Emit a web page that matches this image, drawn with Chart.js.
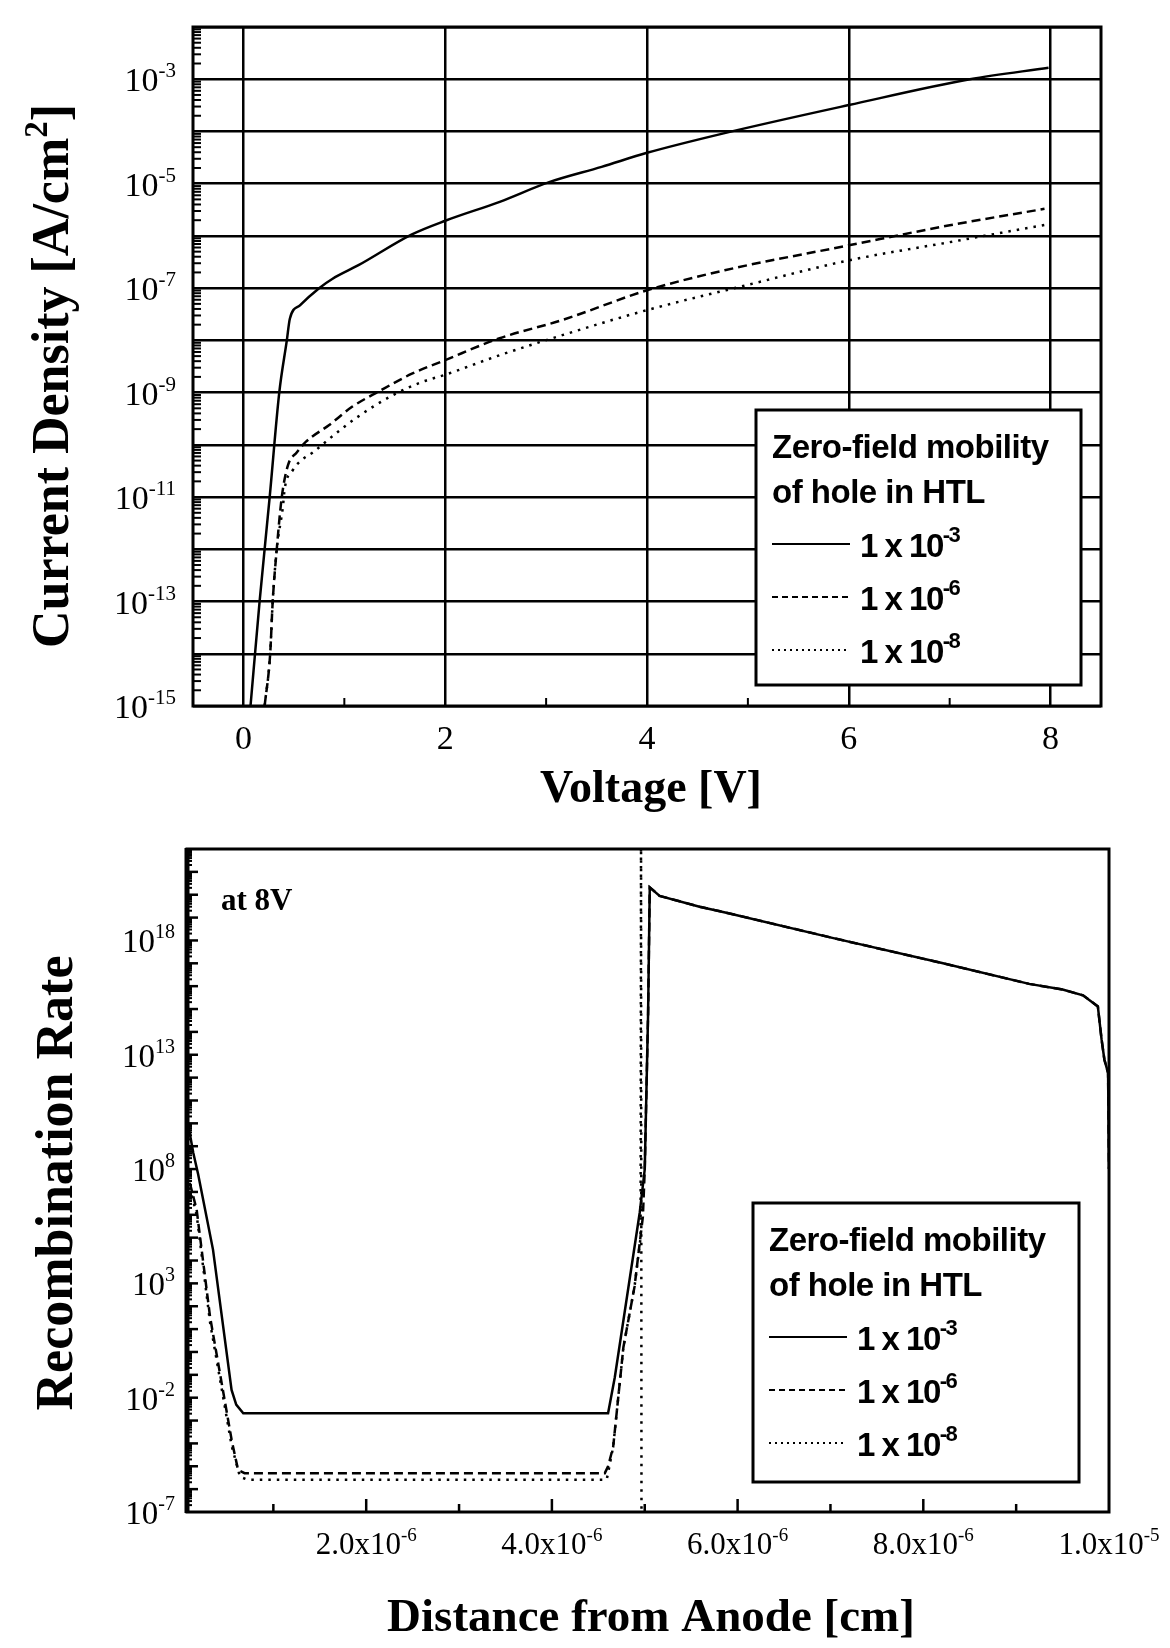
<!DOCTYPE html>
<html>
<head>
<meta charset="utf-8">
<script src="https://cdn.jsdelivr.net/npm/chart.js@4.4.0/dist/chart.umd.min.js"></script>
<style>
  body { margin: 0; background: #fff; }
  #wrap { position: relative; width: 1170px; height: 1648px; }
  canvas { position: absolute; left: 0; }
</style>
</head>
<body>
<div id="wrap">
  <canvas id="jvChart" width="1170" height="830" style="top:0"></canvas>
  <canvas id="recChart" width="1170" height="818" style="top:830px"></canvas>
</div>
<script>
// ---- top panel: current density vs voltage
const voltSolid = [0.07, 0.16, 0.26, 0.355, 0.43, 0.46, 0.56, 0.75, 0.88, 1.14, 1.67, 2.0, 2.54, 3.03, 3.55, 4.0, 4.77, 6.0, 7.2, 7.98];
const curSolid = [1e-15, 1e-13, 1e-11, 1e-9, 1e-8, 2.6e-8, 4.7e-8, 1.0e-7, 1.5e-7, 2.75e-7, 1.07e-6, 1.95e-6, 4.5e-6, 1.07e-5, 2.1e-5, 3.9e-5, 9.3e-5, 3.2e-4, 1.0e-3, 1.66e-3];

const voltDashed = [0.21, 0.265, 0.29, 0.33, 0.38, 0.44, 0.53, 0.62, 0.85, 1.08, 1.34, 1.67, 2.0, 2.54, 3.16, 4.0, 4.77, 6.0, 7.0, 7.94];
const curDashed = [1e-15, 1e-14, 1e-13, 1e-12, 1e-11, 4.0e-11, 7.2e-11, 1.15e-10, 2.4e-10, 5.4e-10, 1.05e-9, 2.3e-9, 4.2e-9, 1.1e-8, 2.45e-8, 9.1e-8, 2.2e-7, 6.6e-7, 1.6e-6, 3.3e-6];

const voltDotted = [0.21, 0.265, 0.29, 0.33, 0.39, 0.41, 0.49, 0.575, 0.69, 0.85, 1.11, 1.47, 1.77, 2.0, 2.54, 3.16, 4.0, 4.97, 6.0, 7.0, 8.0];
const curDotted = [1e-15, 1e-14, 1e-13, 1e-12, 6.3e-12, 1.5e-11, 3.3e-11, 5.1e-11, 7.2e-11, 1.3e-10, 3.2e-10, 8.7e-10, 1.6e-9, 2.2e-9, 5.2e-9, 1.26e-8, 3.8e-8, 1.12e-7, 3.4e-7, 7.6e-7, 1.7e-6];

const voltTicks = [0, 2, 4, 6, 8];
const voltMinorTicks = [1, 3, 5, 7];
const curDecades = [1e-15, 1e-14, 1e-13, 1e-12, 1e-11, 1e-10, 1e-9, 1e-8, 1e-7, 1e-6, 1e-5, 1e-4, 1e-3, 1e-2];
const curLabelTicks = [1e-3, 1e-5, 1e-7, 1e-9, 1e-11, 1e-13, 1e-15];

// ---- bottom panel: recombination rate at 8 V
const distSolid = [8.0e-8, 1.38e-7, 1.9e-7, 3.5e-7, 5.5e-7, 6.0e-7, 6.76e-7, 4.605e-6, 4.677e-6, 4.946e-6, 5.0e-6, 5.036e-6, 5.054e-6, 5.16e-6, 5.59e-6, 5.89e-6, 7.02e-6, 8.19e-6, 9.14e-6, 9.5e-6, 9.72e-6, 9.88e-6, 9.92e-6, 9.95e-6, 9.99e-6, 1.0e-5];
const rateSolid = [1e10, 5e8, 6e7, 3.0e4, 0.022, 5e-3, 2.1e-3, 2.1e-3, 0.076, 1.26e6, 9.8e7, 6.3e14, 2.1e20, 8.9e19, 3.0e19, 1.6e19, 1.3e18, 1.05e17, 1.26e16, 7.1e15, 4.0e15, 1.3e15, 4.7e13, 6.2e12, 1.6e12, 1e8];

const distDashed = [1.0e-7, 1.74e-7, 3.18e-7, 5.51e-7, 6.2e-7, 6.9e-7, 4.57e-6, 4.605e-6, 4.66e-6, 4.77e-6, 4.89e-6, 4.98e-6, 5.0e-6, 5.036e-6, 5.054e-6, 5.16e-6, 5.59e-6, 5.89e-6, 7.02e-6, 8.19e-6, 9.14e-6, 9.5e-6, 9.72e-6, 9.88e-6, 9.92e-6, 9.95e-6, 9.99e-6, 1.0e-5];
const rateDashed = [2.5e7, 1.66e6, 35, 1.4e-4, 6.9e-6, 5e-6, 5e-6, 1e-5, 7.1e-5, 1.6, 720, 8.3e5, 9.8e7, 6.3e14, 2.1e20, 8.9e19, 3.0e19, 1.6e19, 1.3e18, 1.05e17, 1.26e16, 7.1e15, 4.0e15, 1.3e15, 4.7e13, 6.2e12, 1.6e12, 1e8];

const distDotted = [1.0e-7, 1.74e-7, 3.18e-7, 5.51e-7, 6.4e-7, 7.2e-7, 4.59e-6, 4.605e-6, 4.66e-6, 4.77e-6, 4.89e-6, 4.955e-6, 4.96e-6, 4.965e-6];
const rateDotted = [1.6e7, 1.0e6, 20, 7.9e-5, 3.5e-6, 2.6e-6, 2.6e-6, 5e-6, 7.1e-5, 1.6, 720, 1e5, 1e23, 1e-8];

const distMajorTicks = [2e-6, 4e-6, 6e-6, 8e-6];
const distMinorTicks = [1e-6, 3e-6, 5e-6, 7e-6, 9e-6];
const distLabelTicks = [2e-6, 4e-6, 6e-6, 8e-6, 1e-5];
const distLabelText = ['2.0x10', '4.0x10', '6.0x10', '8.0x10', '1.0x10'];
const distLabelExp = ['-6', '-6', '-6', '-6', '-5'];
const rateLabelTicks = [1e18, 1e13, 1e8, 1e3, 1e-2, 1e-7];

const mobilityExp = ['-3', '-6', '-8'];
const legendTitle = ['Zero-field mobility', 'of hole in HTL'];
const seriesDash = [[], [9, 5], [2.5, 6]];
const legendDash = [[], [6, 4], [2, 4]];

const serif = "'Liberation Serif', 'Times New Roman', serif";
const sans = "'Liberation Sans', Arial, sans-serif";

function pts(xs, ys) {
  return xs.map((v, i) => ({ x: v, y: ys[i] }));
}

function richText(ctx, parts, x, y, align) {
  let total = 0;
  parts.forEach(p => { ctx.font = p.font; p.w = ctx.measureText(p.text).width; total += p.w; });
  let cx = x;
  if (align === 'right') cx = x - total;
  if (align === 'center') cx = x - total / 2;
  ctx.textAlign = 'left';
  ctx.textBaseline = 'alphabetic';
  parts.forEach(p => {
    ctx.font = p.font;
    ctx.fillText(p.text, cx, y - (p.rise || 0));
    cx += p.w;
  });
}

function expOf(v) {
  return String(Math.round(Math.log10(v)));
}

function line(ctx, x1, y1, x2, y2) {
  ctx.beginPath();
  ctx.moveTo(x1, y1);
  ctx.lineTo(x2, y2);
  ctx.stroke();
}

function minorLogTicks(ctx, scale, a, lo, hi, len) {
  for (let e = lo; e < hi; e++) {
    for (let m = 2; m <= 9; m++) {
      const py = scale.getPixelForValue(m * Math.pow(10, e));
      if (py > a.top && py < a.bottom) line(ctx, a.left, py, a.left + len, py);
    }
  }
}

function drawLegend(ctx, bx, by, bw, bh) {
  ctx.save();
  ctx.fillStyle = '#fff';
  ctx.fillRect(bx, by, bw, bh);
  ctx.strokeStyle = '#000';
  ctx.lineWidth = 3;
  ctx.strokeRect(bx, by, bw, bh);
  ctx.fillStyle = '#000';
  ctx.font = `bold 33px ${sans}`;
  ctx.textAlign = 'left';
  ctx.letterSpacing = '-0.5px';
  legendTitle.forEach((t, i) => ctx.fillText(t, bx + 16, by + 48 + i * 45));
  mobilityExp.forEach((ex, i) => {
    const ly = by + 134 + i * 53;
    ctx.setLineDash(legendDash[i]);
    ctx.lineWidth = 2;
    line(ctx, bx + 16, ly, bx + 94, ly);
    ctx.setLineDash([]);
    ctx.letterSpacing = '-1.5px';
    richText(ctx, [
      { text: '1 x 10', font: `bold 33px ${sans}` },
      { text: ex, font: `bold 22px ${sans}`, rise: 15 }
    ], bx + 104, by + 147 + i * 53, 'left');
  });
  ctx.letterSpacing = '0px';
  ctx.restore();
}

function makeDatasets(sets, smooth) {
  return sets.map((s, i) => ({
    label: '1 x 10' + mobilityExp[i],
    data: s,
    borderColor: '#000',
    borderWidth: 2.5,
    borderDash: seriesDash[i],
    pointRadius: 0,
    tension: 0,
    cubicInterpolationMode: smooth ? 'monotone' : 'default',
    fill: false
  }));
}

const jvDecor = {
  id: 'jvDecor',
  afterDraw(chart) {
    const { ctx, chartArea: a, scales: { x, y } } = chart;
    ctx.save();
    ctx.strokeStyle = '#000';
    ctx.fillStyle = '#000';
    ctx.lineWidth = 2;
    minorLogTicks(ctx, y, a, -15, -2, 8);
    voltMinorTicks.forEach(v => {
      const px = x.getPixelForValue(v);
      line(ctx, px, a.bottom, px, a.bottom - 8);
    });
    ctx.lineWidth = 3;
    ctx.strokeRect(a.left, a.top, a.right - a.left, a.bottom - a.top);

    curLabelTicks.forEach(v => {
      const py = y.getPixelForValue(v);
      richText(ctx, [
        { text: '10', font: `34px ${serif}` },
        { text: expOf(v), font: `21px ${serif}`, rise: 14 }
      ], a.left - 17, py + 12, 'right');
    });
    ctx.font = `34px ${serif}`;
    ctx.textAlign = 'center';
    voltTicks.forEach(v => ctx.fillText(String(v), x.getPixelForValue(v), 749));

    ctx.font = `bold 46px ${serif}`;
    ctx.fillText('Voltage [V]', 651, 802);

    ctx.save();
    ctx.translate(68, 376);
    ctx.rotate(-Math.PI / 2);
    richText(ctx, [
      { text: 'Current Density [A/cm', font: `bold 52px ${serif}` },
      { text: '2', font: `bold 33px ${serif}`, rise: 21 },
      { text: ']', font: `bold 52px ${serif}` }
    ], 0, 0, 'center');
    ctx.restore();

    drawLegend(ctx, 756, 410, 325, 275);
    ctx.restore();
  }
};

const recDecor = {
  id: 'recDecor',
  afterDraw(chart) {
    const { ctx, chartArea: a, scales: { x, y } } = chart;
    ctx.save();
    ctx.strokeStyle = '#000';
    ctx.fillStyle = '#000';
    ctx.lineWidth = 2;
    minorLogTicks(ctx, y, a, -7, 22, 5);
    ctx.lineWidth = 2.5;
    for (let e = -6; e < 22; e++) {
      const py = y.getPixelForValue(Math.pow(10, e));
      line(ctx, a.left, py, a.left + 11, py);
    }
    distMajorTicks.forEach(v => {
      const px = x.getPixelForValue(v);
      line(ctx, px, a.bottom, px, a.bottom - 13);
    });
    distMinorTicks.forEach(v => {
      const px = x.getPixelForValue(v);
      line(ctx, px, a.bottom, px, a.bottom - 8);
    });
    ctx.lineWidth = 3;
    ctx.strokeRect(a.left, a.top, a.right - a.left, a.bottom - a.top);
    ctx.lineWidth = 5;
    line(ctx, a.left, a.top - 1, a.left, a.bottom + 1);

    rateLabelTicks.forEach(v => {
      const py = y.getPixelForValue(v);
      richText(ctx, [
        { text: '10', font: `33px ${serif}` },
        { text: expOf(v), font: `20px ${serif}`, rise: 14 }
      ], a.left - 12, py + 12, 'right');
    });
    distLabelTicks.forEach((v, i) => {
      richText(ctx, [
        { text: distLabelText[i], font: `31px ${serif}` },
        { text: distLabelExp[i], font: `19px ${serif}`, rise: 13 }
      ], x.getPixelForValue(v), 724, 'center');
    });

    ctx.font = `bold 31px ${serif}`;
    ctx.textAlign = 'left';
    ctx.fillText('at 8V', 221, 80);

    ctx.font = `bold 47px ${serif}`;
    ctx.textAlign = 'center';
    ctx.fillText('Distance from Anode [cm]', 651, 801);

    ctx.save();
    ctx.translate(72, 353);
    ctx.rotate(-Math.PI / 2);
    ctx.font = `bold 52px ${serif}`;
    ctx.textAlign = 'center';
    ctx.fillText('Recombination Rate', 0, 0);
    ctx.restore();

    drawLegend(ctx, 753, 373, 326, 279);
    ctx.restore();
  }
};

new Chart(document.getElementById('jvChart'), {
  type: 'line',
  data: {
    datasets: makeDatasets([
      pts(voltSolid, curSolid),
      pts(voltDashed, curDashed),
      pts(voltDotted, curDotted)
    ], true)
  },
  options: {
    responsive: false,
    animation: false,
    layout: { padding: { left: 193, right: 69, top: 27, bottom: 124 } },
    plugins: { legend: { display: false }, tooltip: { enabled: false } },
    scales: {
      x: {
        type: 'linear', min: -0.5, max: 8.5,
        afterBuildTicks: ax => { ax.ticks = voltTicks.map(v => ({ value: v })); },
        ticks: { display: false },
        grid: { color: '#000', lineWidth: 2.5, drawTicks: false },
        border: { display: false }
      },
      y: {
        type: 'logarithmic', min: 1e-15, max: 1e-2,
        afterBuildTicks: ax => { ax.ticks = curDecades.map(v => ({ value: v })); },
        ticks: { display: false },
        grid: { color: '#000', lineWidth: 2.5, drawTicks: false },
        border: { display: false }
      }
    }
  },
  plugins: [jvDecor]
});

new Chart(document.getElementById('recChart'), {
  type: 'line',
  data: {
    datasets: makeDatasets([
      pts(distSolid, rateSolid),
      pts(distDashed, rateDashed),
      pts(distDotted, rateDotted)
    ], false)
  },
  options: {
    responsive: false,
    animation: false,
    layout: { padding: { left: 187, right: 61, top: 19, bottom: 136 } },
    plugins: { legend: { display: false }, tooltip: { enabled: false } },
    scales: {
      x: {
        type: 'linear', min: 0.07e-6, max: 1e-5,
        ticks: { display: false },
        grid: { display: false, drawTicks: false },
        border: { display: false }
      },
      y: {
        type: 'logarithmic', min: 1e-7, max: 1e22,
        ticks: { display: false },
        grid: { display: false, drawTicks: false },
        border: { display: false }
      }
    }
  },
  plugins: [recDecor]
});
</script>
</body>
</html>
